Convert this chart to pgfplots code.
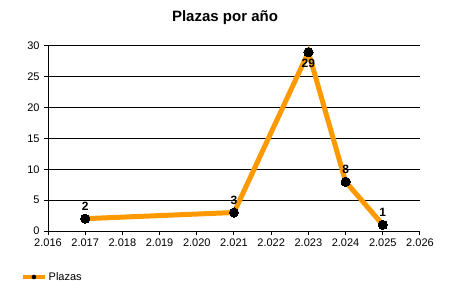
\documentclass[border=0pt]{standalone}
\usepackage{pgfplots}
\pgfplotsset{compat=1.18}
\usepackage{fontspec}
\setmainfont{Liberation Sans}
\definecolor{lineorange}{RGB}{255,153,0}
\begin{document}
\begin{tikzpicture}[x=1bp,y=1bp]
\useasboundingbox (0,0) rectangle (450,300);
\node[font=\bfseries\fontsize{15bp}{18bp}\selectfont] at (225,282) {Plazas por año};
\begin{axis}[
  at={(48bp,69bp)}, anchor=south west,
  scale only axis, width=372bp, height=185bp,
  xmin=2016, xmax=2026, ymin=0, ymax=30,
  xtick={2016,...,2026}, ytick={0,5,...,30},
  axis x line*=bottom, axis y line*=left,
  axis line style={black, line width=1bp, -},
  ymajorgrids, grid style={black, line width=1bp},
  tick style={black, line width=1bp},
  tick align=outside, major tick length=4bp,
  ticklabel style={font=\fontsize{11bp}{13bp}\selectfont},
  /pgf/number format/.cd, 1000 sep={.}, assume math mode=true,
  /pgfplots/.cd,
  yticklabel style={xshift=-1bp},
  clip=false,
  nodes near coords,
  legend style={at={(-30bp,-46bp)}, anchor=west, draw=none, fill=none,
    font=\fontsize{11bp}{13bp}\selectfont, legend cell align=left},
  legend image code/.code={
    \draw[lineorange, line width=3.5bp] (0bp,0bp) -- (22bp,0bp);
    \path[fill=black, draw=none, line width=0pt] (11bp,0bp) circle (2.3bp);
  },
]
\addplot[lineorange, line width=5bp, mark=*, mark size=4.6bp,
  mark options={fill=black, draw=black, line width=0pt},
  visualization depends on={y \as \yv},
  every node near coord/.append style={
    font=\bfseries\fontsize{12bp}{14bp}\selectfont, black, inner sep=1bp,
    /utils/exec={\pgfmathparse{\yv>20}},
    anchor=\ifdim\pgfmathresult pt>0.5pt north\else south\fi,
    yshift=\ifdim\pgfmathresult pt>0.5pt -6bp\else 7bp\fi,
  }
] coordinates {
  (2017,2) (2021,3) (2023,29) (2024,8) (2025,1)
};
\addlegendentry{Plazas}
\end{axis}
\end{tikzpicture}
\end{document}
